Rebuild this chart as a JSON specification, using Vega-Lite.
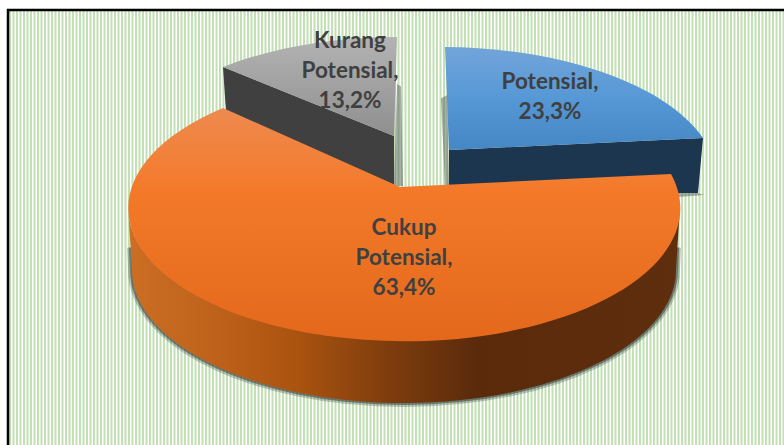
{"$schema":"https://vega.github.io/schema/vega-lite/v6.json","width":784,"height":445,"autosize":"none","padding":0,"background":"#ffffff","config":{"view":{"stroke":null}},
"data":{"values":[{"kategori":"Potensial","persen":23.3,"label":"Potensial,\n23,3%"},{"kategori":"Cukup Potensial","persen":63.4,"label":"Cukup\nPotensial,\n63,4%"},{"kategori":"Kurang Potensial","persen":13.2,"label":"Kurang\nPotensial,\n13,2%"}]},
"layer":[
{"transform":[{"filter":"datum.kategori==='Potensial'"}],"mark":{"type":"point","shape":"M-383 5.5L392 5.5","size":4,"filled":false,"opacity":1,"stroke":"#c2e0b4","strokeWidth":434,"strokeDash":[2,1.5]}},
{"transform":[{"filter":"datum.kategori==='Potensial'"}],"mark":{"type":"point","shape":"M-384 222.5L-384 -212.5L392 -212.5","size":4,"filled":false,"opacity":1,"stroke":"#000000","strokeWidth":2.5}},
{"transform":[{"filter":"datum.kategori==='Kurang Potensial'"}],"mark":{"type":"point","shape":"M5 -138.5L9 -136L11 -36.5L2 -36.5Z","size":4,"filled":true,"opacity":0.5,"color":"#55605a"}},
{"transform":[{"filter":"datum.kategori==='Kurang Potensial'"}],"mark":{"type":"point","shape":"M-169 -155.5L2 -86.5L2 -37.5L-166 -110.5Z","size":4,"filled":true,"opacity":1,"color":"#404040"}},
{"transform":[{"filter":"datum.kategori==='Kurang Potensial'"}],"mark":{"type":"point","shape":"M2 -86.5L5 -185.5A276 133 0 0 0 -169 -155.5Z","size":4,"filled":true,"opacity":1,"color":{"gradient":"linear","x1":0,"y1":0,"x2":0,"y2":1,"stops":[{"offset":0,"color":"#b3b3b3"},{"offset":1,"color":"#8f8f8f"}]}}},
{"transform":[{"filter":"datum.kategori==='Potensial'"}],"mark":{"type":"point","shape":"M49 -124L55 -127.5L57 -36.5L53 -36.5ZM283 -29.5L306 -29.5L312 -27.5L286 -25.5Z","size":4,"filled":true,"opacity":0.5,"color":"#55605a"}},
{"transform":[{"filter":"datum.kategori==='Potensial'"}],"mark":{"type":"point","shape":"M57 -72.5L311 -84.5L306 -29.5L268 -29.5L57 -36.5Z","size":4,"filled":true,"opacity":1,"color":"#1c3650"}},
{"transform":[{"filter":"datum.kategori==='Potensial'"}],"mark":{"type":"point","shape":"M57 -72.5L53 -175.5A276 133 0 0 1 311 -84.5Z","size":4,"filled":true,"opacity":1,"color":{"gradient":"linear","x1":0,"y1":0,"x2":0,"y2":1,"stops":[{"offset":0,"color":"#72a5d9"},{"offset":0.5,"color":"#5698d6"},{"offset":1,"color":"#4587c5"}]}}},
{"transform":[{"filter":"datum.kategori==='Cukup Potensial'"}],"mark":{"type":"point","shape":"M-261 25L-260 47.5A272 133 0 0 0 284 47.5L285 25","size":4,"filled":false,"opacity":0.3,"stroke":"#3c4a44","strokeWidth":8}},
{"transform":[{"filter":"datum.kategori==='Cukup Potensial'"}],"mark":{"type":"point","shape":"M-261 25L-260 47.5A272 133 0 0 0 284 47.5L285 25","size":4,"filled":false,"opacity":0.6,"stroke":"#3c4a44","strokeWidth":4}},
{"transform":[{"filter":"datum.kategori==='Cukup Potensial'"}],"mark":{"type":"point","shape":"M-264 -15.5A276 133 0 0 0 288 -15.5L284 47.5A272 133 0 0 1 -260 47.5Z","size":4,"filled":true,"opacity":1,"color":{"gradient":"linear","x1":0,"y1":0,"x2":1,"y2":0,"stops":[{"offset":0,"color":"#cc6f24"},{"offset":0.17,"color":"#bd601a"},{"offset":0.31,"color":"#a9530f"},{"offset":0.47,"color":"#7f3d0e"},{"offset":0.635,"color":"#5a2a0b"},{"offset":1,"color":"#5f2e0d"}]}}},
{"transform":[{"filter":"datum.kategori==='Cukup Potensial'"}],"mark":{"type":"point","shape":"M8 -35.5L279 -48.5A276 133 0 1 1 -169 -114.5Z","size":4,"filled":true,"opacity":1,"color":{"gradient":"linear","x1":0,"y1":0,"x2":0,"y2":1,"stops":[{"offset":0,"color":"#ee8a50"},{"offset":0.35,"color":"#f47a2a"},{"offset":1,"color":"#e3681b"}]}}},
{"transform":[{"filter":"datum.kategori==='Kurang Potensial'"}],"mark":{"type":"text","font":"Lato","fontWeight":"bold","fontSize":22.5,"color":"#404040","lineHeight":30,"lineBreak":"\n","align":"center","baseline":"middle","dx":-42,"dy":-181.5},"encoding":{"text":{"field":"label","type":"nominal"}}},
{"transform":[{"filter":"datum.kategori==='Potensial'"}],"mark":{"type":"text","font":"Lato","fontWeight":"bold","fontSize":22.5,"color":"#404040","lineHeight":30,"lineBreak":"\n","align":"center","baseline":"middle","dx":158,"dy":-140.5},"encoding":{"text":{"field":"label","type":"nominal"}}},
{"transform":[{"filter":"datum.kategori==='Cukup Potensial'"}],"mark":{"type":"text","font":"Lato","fontWeight":"bold","fontSize":22.5,"color":"#404040","lineHeight":30,"lineBreak":"\n","align":"center","baseline":"middle","dx":12,"dy":5},"encoding":{"text":{"field":"label","type":"nominal"}}}
]}
